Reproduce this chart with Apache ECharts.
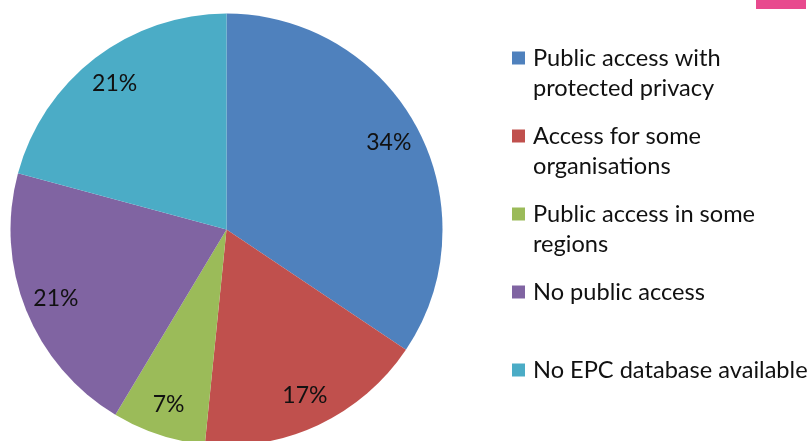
<!DOCTYPE html>
<html><head><meta charset="utf-8">
<script src="https://cdn.jsdelivr.net/npm/echarts@6/dist/echarts.min.js"></script>
<style>html,body{margin:0;padding:0;background:#fff}#c{width:811px;height:441px}</style>
</head><body><div id="c"></div>
<script>
const categories = ['Public access with protected privacy', 'Access for some organisations', 'Public access in some regions', 'No public access', 'No EPC database available'];
const legendLines = [['Public access with', 'protected privacy'], ['Access for some', 'organisations'], ['Public access in some', 'regions'], ['No public access'], ['No EPC database available']];
const values = [34.4, 17.2, 7.0, 20.6, 20.8];
const colors = ['#4F81BD', '#C0504D', '#9BBB59', '#8064A2', '#4BACC6'];

const chart = echarts.init(document.getElementById('c'), null, {renderer: 'canvas'});
const pieData = categories.map((n, i) => ({name: n, value: values[i]}));
const font = 'Lato';
chart.setOption({
  animation: false,
  color: colors,
  graphic: [{type: 'rect', right: 5, top: 0, shape: {width: 50, height: 9}, style: {fill: '#E84A8E'}}],
  legend: {
    data: categories,
    orient: 'vertical',
    left: 512,
    top: 13,
    padding: 0,
    itemGap: -12,
    itemWidth: 13,
    itemHeight: 13,
    icon: 'rect',
    selectedMode: false,
    textStyle: {fontFamily: font, fontSize: 23.6, lineHeight: 30, color: '#111', padding: [0, 0, 0, 3]},
    formatter: function (name) {
      const l = legendLines[categories.indexOf(name)];
      return ['\u00a0', l[0], l[1] || '\u00a0'].join('\n');
    }
  },
  series: [
    {
      type: 'pie',
      center: [226.5, 229.5],
      radius: [0, 216],
      startAngle: 90,
      clockwise: true,
      silent: true,
      label: {show: false},
      labelLine: {show: false},
      itemStyle: {borderWidth: 0},
      data: pieData
    },
    {
      type: 'pie',
      center: [226.5, 229.5],
      radius: [146, 216],
      startAngle: 90,
      clockwise: true,
      silent: true,
      itemStyle: {color: 'rgba(0,0,0,0)', borderWidth: 0},
      label: {
        show: true,
        position: 'inside',
        fontFamily: font,
        fontSize: 23,
        color: '#111',
        formatter: p => Math.round(p.percent) + '%'
      },
      labelLine: {show: false},
      data: pieData
    }
  ]
});
</script>
</body></html>
